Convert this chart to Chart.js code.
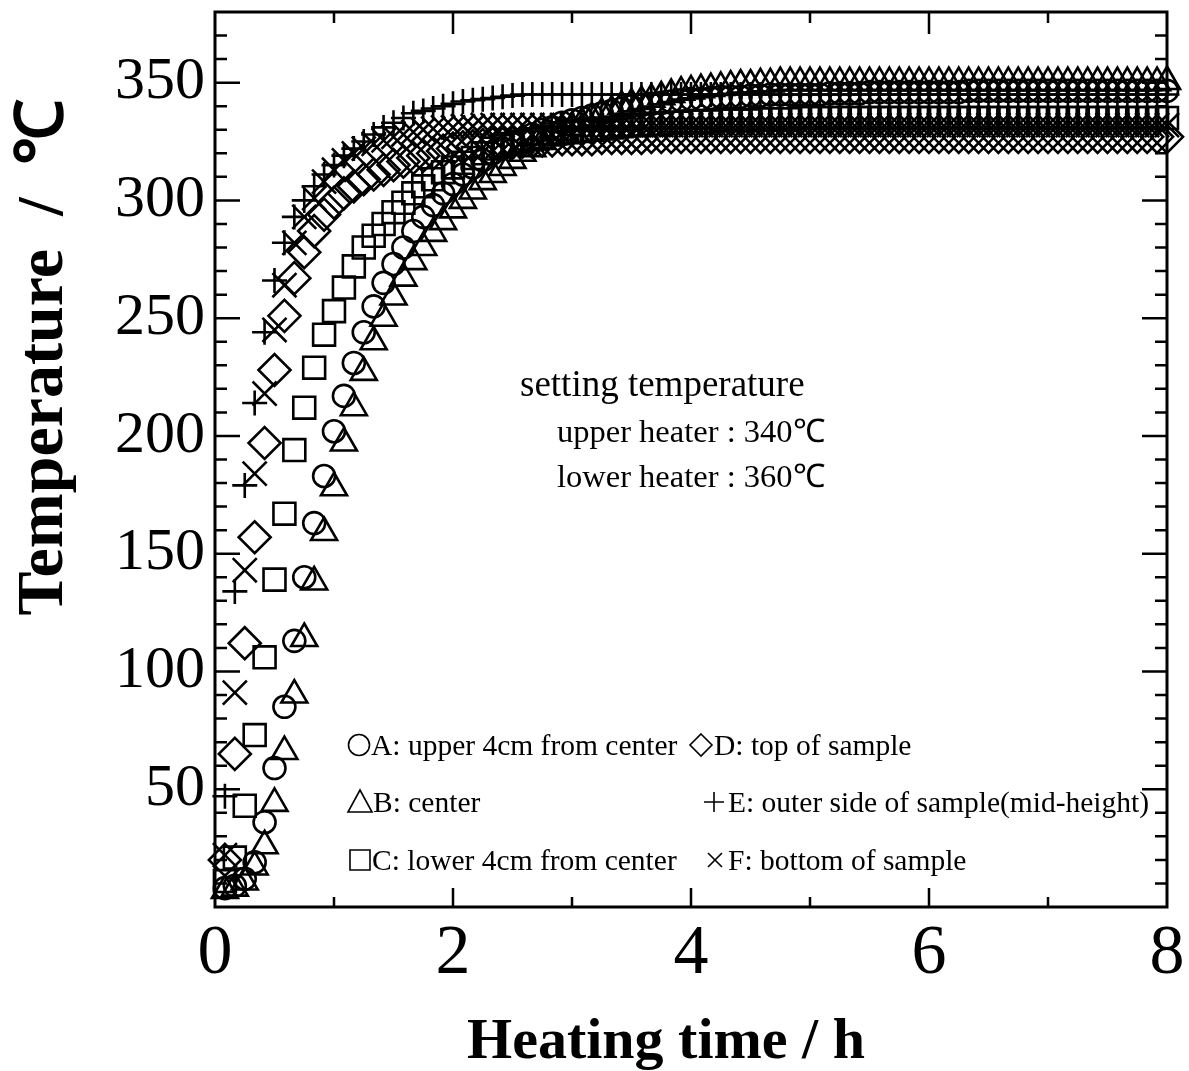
<!DOCTYPE html>
<html>
<head>
<meta charset="utf-8">
<title>Temperature vs heating time</title>
<script src="https://cdn.jsdelivr.net/npm/chart.js@4.4.1/dist/chart.umd.min.js"></script>
<style>
  html, body { margin: 0; padding: 0; background: #fff; }
  #wrap { width: 1189px; height: 1071px; }
</style>
</head>
<body>
<div id="wrap"><canvas id="chart" width="1189" height="1071"></canvas></div>
<script>
// sampling times, minutes from start of heating
const minutes = [
  5, 10, 15, 20, 25, 30, 35, 40, 45, 50, 55, 60,
  65, 70, 75, 80, 85, 90, 95, 100, 105, 110, 115, 120,
  125, 130, 135, 140, 145, 150, 155, 160, 165, 170, 175, 180,
  185, 190, 195, 200, 205, 210, 215, 220, 225, 230, 235, 240,
  245, 250, 255, 260, 265, 270, 275, 280, 285, 290, 295, 300,
  305, 310, 315, 320, 325, 330, 335, 340, 345, 350, 355, 360,
  365, 370, 375, 380, 385, 390, 395, 400, 405, 410, 415, 420,
  425, 430, 435, 440, 445, 450, 455, 460, 465, 470, 475, 480
];

// A: upper 4cm from center
const tempA = [
  8, 9, 12, 19, 36, 59, 85, 113, 140, 163, 183, 202,
  217, 231, 244, 255, 265, 273, 280, 287, 293, 298, 303, 307,
  311, 314, 317, 320, 322, 324, 326, 328, 330, 331, 333, 334,
  335, 336, 337, 338, 339, 340, 340.5, 341, 341.5, 342, 342.5, 343,
  343, 343.5, 344, 344, 344, 344.5, 344.5, 345, 345, 345, 345, 345,
  345, 345.5, 345.5, 345.5, 345.5, 346, 346, 346, 346, 346, 346, 346,
  346, 346, 346, 346.5, 346.5, 346.5, 346.5, 346.5, 346.5, 346.5, 346.5, 346.5,
  346.5, 346.5, 346.5, 346.5, 346.5, 346.5, 346.5, 346.5, 346.5, 346.5, 346.5, 346.5
];

// B: center
const tempB = [
  7, 8, 10.6, 17, 26, 44, 66, 90, 114, 138, 159, 178,
  197, 212, 227, 240, 250, 259, 267, 274, 280, 286, 291, 296,
  300, 304, 308, 311, 314, 317, 320, 322, 325, 327, 329, 331,
  333, 335, 337, 338, 340, 341, 342, 343, 344, 345, 346, 346.5,
  347, 347.5, 348, 348.5, 349, 349, 349.5, 349.5, 350, 350, 350, 350,
  350, 350, 350, 350, 350, 350, 350, 350, 350, 350, 350, 350,
  350, 350, 350, 350, 350, 350, 350, 350, 350, 350, 350, 350,
  350, 350, 350, 350, 350, 350, 350, 350, 350, 350, 350, 350.5
];

// C: lower 4cm from center
const tempC = [
  11, 21, 43, 73, 106, 139, 167, 194, 212, 229, 243, 253,
  263, 272, 280, 285, 290, 295, 299, 303, 306, 309, 312, 314,
  316, 318, 320, 322, 323, 324, 325, 326, 327, 328, 328.5, 329,
  329.5, 330, 330.5, 331, 331.5, 332, 332, 332.5, 332.5, 333, 333, 333.5,
  333.5, 333.5, 334, 334, 334, 334, 334.5, 334.5, 334.5, 334.5, 335, 335,
  335, 335, 335, 335, 335, 335, 335, 335, 335, 335, 335, 335,
  335, 335, 335, 335, 335, 335, 335, 335, 335, 335, 335, 335,
  335, 335, 335, 335, 335, 335, 335, 335, 335, 335, 335, 335
];

// D: top of sample
const tempD = [
  20, 65, 112, 157, 197, 228, 251, 267, 278, 287, 294, 299,
  303, 306, 309, 311, 313, 315, 316.5, 318, 319, 320, 321, 322,
  322.5, 323, 323.5, 324, 324, 324.5, 325, 325, 325.5, 325.5, 326, 326,
  326, 326, 326.5, 326.5, 326.5, 326.5, 326.5, 327, 327, 327, 327, 327,
  327, 327, 327, 327, 327, 327, 327, 327, 327, 327, 327, 327,
  327, 327, 327, 327, 327, 327, 327, 327, 327, 327, 327, 327,
  327, 327, 327, 327, 327, 327, 327, 327, 327, 327, 327, 327,
  327, 327, 327, 327, 327, 327, 327, 327, 327, 327, 327, 327
];

// E: outer side of sample (mid-height)
const tempE = [
  47, 134, 179, 214, 244, 266, 282, 293, 300, 306, 311, 315,
  319, 322, 325, 328, 331, 333, 335, 337, 338, 339, 340, 341,
  342, 342.5, 343, 343.5, 344, 344.5, 345, 345, 345, 345, 345, 345,
  345, 345, 345, 345, 345, 345, 345, 345, 345, 345, 345, 345,
  345, 345, 345, 345, 345, 345, 345, 345, 345, 345, 345, 345,
  345, 345, 345, 345, 345, 345, 345, 345, 345, 345, 345, 345,
  345, 345, 345, 345, 345, 345, 345, 345, 345, 345, 345, 345,
  345, 345, 345, 345, 345, 345, 345, 345, 345, 345, 345, 345
];

// F: bottom of sample
const tempF = [
  22, 91, 143, 184, 218, 245, 264, 282, 293, 301, 308, 313,
  317, 320, 322, 324, 325.5, 327, 328, 329, 330, 330.5, 331, 331,
  331.5, 331.5, 332, 332, 332, 332, 332, 332, 332, 332, 332, 332,
  332, 332, 332, 332, 332, 332, 332, 332, 332, 332, 332, 332,
  332, 332, 332, 332, 332, 332, 332, 332, 332, 332, 332, 332,
  332, 332, 332, 332, 332, 332, 332, 332, 332, 332, 332, 332,
  332, 332, 332, 332, 332, 332, 332, 332, 332, 332, 332, 332,
  332, 332, 332, 332, 332, 332, 332, 332, 332, 332, 332, 332
];

const xTicks = [0, 2, 4, 6, 8];
const yTicks = [50, 100, 150, 200, 250, 300, 350];

// legend entries: [symbol, text, x, baseline]
const legendItems = [
  ['circle', 'A: upper 4cm from center', 348, 755],
  ['diamond', 'D: top of sample', 690, 755],
  ['triangle', 'B: center', 348, 812],
  ['plus', 'E: outer side of sample(mid-height)', 704, 812],
  ['square', 'C: lower 4cm from center', 349, 870],
  ['cross', 'F: bottom of sample', 706, 870],
];

const SERIF = '"Liberation Serif", "Times New Roman", serif';

function toPoints(values) {
  return values.map((v, i) => ({ x: minutes[i] / 60, y: v }));
}

function series(values, style, radius) {
  return {
    data: toPoints(values),
    pointStyle: style,
    pointRadius: radius,
    pointHoverRadius: radius,
    pointBorderColor: '#000',
    pointBackgroundColor: 'rgba(0,0,0,0)',
    pointBorderWidth: 2.6,
    showLine: false,
    clip: false,
  };
}

// thin outline symbol in front of each legend text, returns its width
function drawSymbol(ctx, kind, x, base) {
  const cy = base - 10;
  ctx.beginPath();
  if (kind === 'circle') {
    ctx.arc(x + 11, cy, 10.5, 0, Math.PI * 2);
    ctx.stroke();
    return 23;
  }
  if (kind === 'diamond') {
    ctx.moveTo(x + 11, cy - 11);
    ctx.lineTo(x + 22, cy);
    ctx.lineTo(x + 11, cy + 11);
    ctx.lineTo(x, cy);
    ctx.closePath();
    ctx.stroke();
    return 24;
  }
  if (kind === 'triangle') {
    ctx.moveTo(x + 12, cy - 12);
    ctx.lineTo(x + 24, cy + 10);
    ctx.lineTo(x, cy + 10);
    ctx.closePath();
    ctx.stroke();
    return 25;
  }
  if (kind === 'square') {
    ctx.rect(x + 1, cy - 10, 20, 20);
    ctx.stroke();
    return 23;
  }
  if (kind === 'plus') {
    ctx.moveTo(x, cy);
    ctx.lineTo(x + 20, cy);
    ctx.moveTo(x + 10, cy - 10);
    ctx.lineTo(x + 10, cy + 10);
    ctx.stroke();
    return 24;
  }
  // cross
  ctx.moveTo(x + 2, cy - 7);
  ctx.lineTo(x + 16, cy + 7);
  ctx.moveTo(x + 16, cy - 7);
  ctx.lineTo(x + 2, cy + 7);
  ctx.stroke();
  return 22;
}

const framePlugin = {
  id: 'frame',
  beforeDatasetsDraw(chart) {
    const { ctx, chartArea: a, scales: { x, y } } = chart;
    ctx.save();
    ctx.strokeStyle = '#000';
    ctx.lineWidth = 3;
    ctx.strokeRect(a.left, a.top, a.right - a.left, a.bottom - a.top);

    ctx.lineWidth = 2.5;
    ctx.beginPath();
    for (let v = 10; v < 380; v += 10) {
      const py = y.getPixelForValue(v);
      const len = v % 50 === 0 ? 25 : 12;
      ctx.moveTo(a.left, py);
      ctx.lineTo(a.left + len, py);
      ctx.moveTo(a.right, py);
      ctx.lineTo(a.right - len, py);
    }
    for (let v = 1; v < 8; v++) {
      const px = x.getPixelForValue(v);
      const major = v % 2 === 0;
      ctx.moveTo(px, a.bottom);
      ctx.lineTo(px, a.bottom - (major ? 19 : 10));
      ctx.moveTo(px, a.top);
      ctx.lineTo(px, a.top + (major ? 22 : 11));
    }
    ctx.stroke();

    ctx.fillStyle = '#000';
    ctx.textBaseline = 'alphabetic';
    ctx.textAlign = 'left';

    // setting temperature note
    ctx.font = `37px ${SERIF}`;
    ctx.fillText('setting temperature', 520, 396);
    ctx.font = `32.5px ${SERIF}`;
    ctx.fillText('upper heater : 340\u2103', 557, 442);
    ctx.fillText('lower heater : 360\u2103', 557, 487);

    // legend
    ctx.font = `29.5px ${SERIF}`;
    ctx.lineWidth = 1.6;
    legendItems.forEach(([kind, label, lx, base]) => {
      const w = drawSymbol(ctx, kind, lx, base);
      ctx.fillText(label, lx + w, base);
    });

    // axis titles
    ctx.font = `bold 58px ${SERIF}`;
    ctx.textAlign = 'center';
    ctx.fillText('Heating time / h', 666, 1058);

    ctx.save();
    ctx.translate(62, 357);
    ctx.rotate(-Math.PI / 2);
    ctx.font = `bold 66px ${SERIF}`;
    ctx.fillText('Temperature  /  \u2103', 0, 0);
    ctx.restore();

    ctx.restore();
  },
};

new Chart(document.getElementById('chart'), {
  type: 'scatter',
  data: {
    datasets: [
      series(tempA, 'circle', 11),
      series(tempB, 'triangle', 15),
      series(tempC, 'rect', 15.5),
      series(tempD, 'rectRot', 16),
      series(tempE, 'cross', 12.5),
      series(tempF, 'crossRot', 17),
    ],
  },
  options: {
    responsive: false,
    animation: false,
    events: [],
    layout: { autoPadding: false, padding: { top: 12, right: 22, left: 0, bottom: 0 } },
    plugins: {
      legend: { display: false },
      tooltip: { enabled: false },
    },
    scales: {
      x: {
        type: 'linear',
        min: 0,
        max: 8,
        afterFit: (s) => {
          s.height = 164;
          s.paddingLeft = 0;
          s.paddingRight = 0;
        },
        afterBuildTicks: (s) => { s.ticks = xTicks.map((v) => ({ value: v })); },
        grid: { display: false, drawTicks: false },
        border: { display: false },
        ticks: {
          autoSkip: false,
          maxRotation: 0,
          padding: 6,
          color: '#000',
          font: { family: SERIF, size: 70 },
        },
      },
      y: {
        type: 'linear',
        min: 0,
        max: 380,
        afterFit: (s) => {
          s.width = 215;
          s.paddingTop = 0;
          s.paddingBottom = 0;
        },
        afterBuildTicks: (s) => { s.ticks = yTicks.map((v) => ({ value: v })); },
        grid: { display: false, drawTicks: false },
        border: { display: false },
        ticks: {
          autoSkip: false,
          padding: 10,
          color: '#000',
          font: { family: SERIF, size: 60 },
        },
      },
    },
  },
  plugins: [framePlugin],
});
</script>
</body>
</html>
